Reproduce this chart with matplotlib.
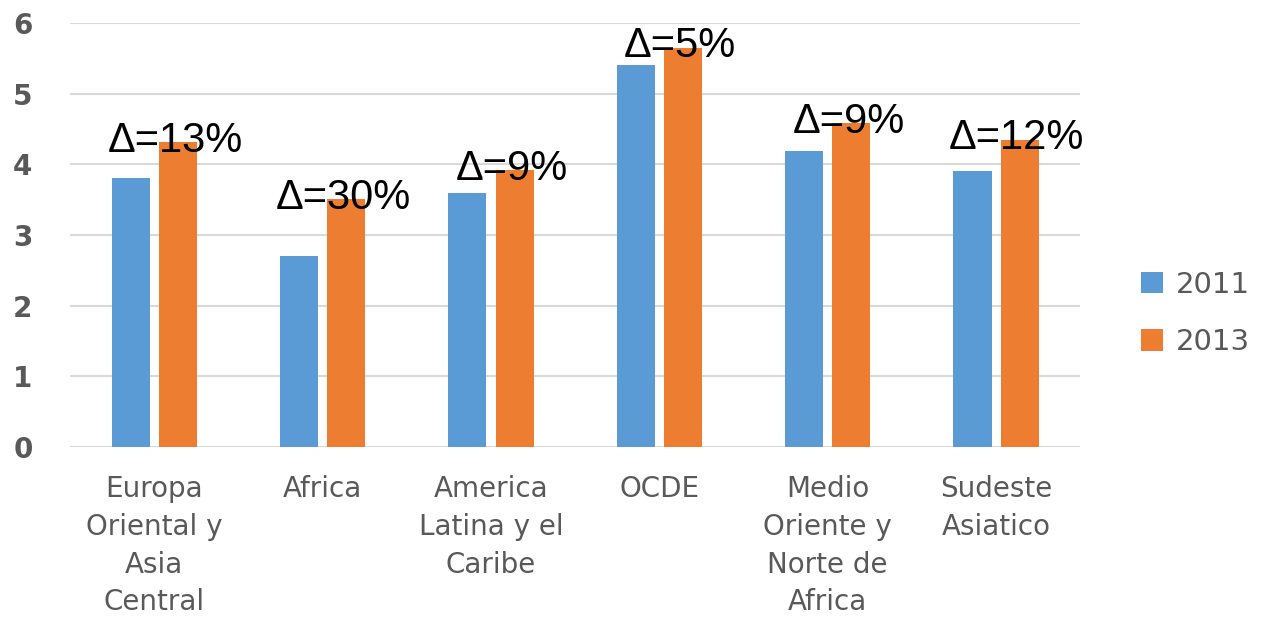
import numpy as np
import matplotlib
matplotlib.use('Agg')
import matplotlib.pyplot as plt

# datos
regiones = ['Europa\nOriental y\nAsia\nCentral', 'Africa', 'America\nLatina y el\nCaribe',
            'OCDE', 'Medio\nOriente y\nNorte de\nAfrica', 'Sudeste\nAsiatico']
v2011 = [3.80, 2.71, 3.59, 5.41, 4.19, 3.90]
v2013 = [4.31, 3.51, 3.92, 5.65, 4.58, 4.35]
deltas = ['Δ=13%', 'Δ=30%', 'Δ=9%', 'Δ=5%', 'Δ=9%', 'Δ=12%']

azul = '#5b9bd5'
naranja = '#ed7d31'
gris = '#595959'

fig = plt.figure(figsize=(12.62, 6.17), dpi=100)
ax = fig.add_axes([0.0555, 0.2755, 0.8005, 0.6872])

x = np.arange(len(regiones))
w = 0.226
off = 0.14
ax.bar(x - off, v2011, w, color=azul, label='2011', zorder=3)
ax.bar(x + off, v2013, w, color=naranja, label='2013', zorder=3)

for xi, v, t in zip(x, v2013, deltas):
    ax.annotate(t, (xi + off, v), xytext=(-2, -7), textcoords='offset points',
                ha='center', va='baseline', fontsize=30, color='black',
                family='Liberation Sans', zorder=4)

ax.set_xlim(-0.5, len(regiones) - 0.5)
ax.set_ylim(0, 6)
ax.set_yticks(range(0, 7))
ax.yaxis.grid(True, color='#d9d9d9', linewidth=1.5, zorder=0)
for s in ax.spines.values():
    s.set_visible(False)
ax.tick_params(axis='both', length=0)
ax.tick_params(axis='y', pad=27, labelsize=20, labelcolor=gris)
for lbl in ax.get_yticklabels():
    lbl.set_fontweight('bold')
ax.set_xticks(x)
ax.set_xticklabels(regiones, fontsize=20, color=gris, linespacing=1.45, va='top')
ax.tick_params(axis='x', pad=20)

fig.legend(loc='center left', bbox_to_anchor=(0.904, 0.492), frameon=False,
           fontsize=21, labelcolor=gris, handlelength=0.76, handleheight=0.76,
           labelspacing=1.0, handletextpad=0.45, borderpad=0, borderaxespad=0)

fig.savefig('out.png', dpi=100)
